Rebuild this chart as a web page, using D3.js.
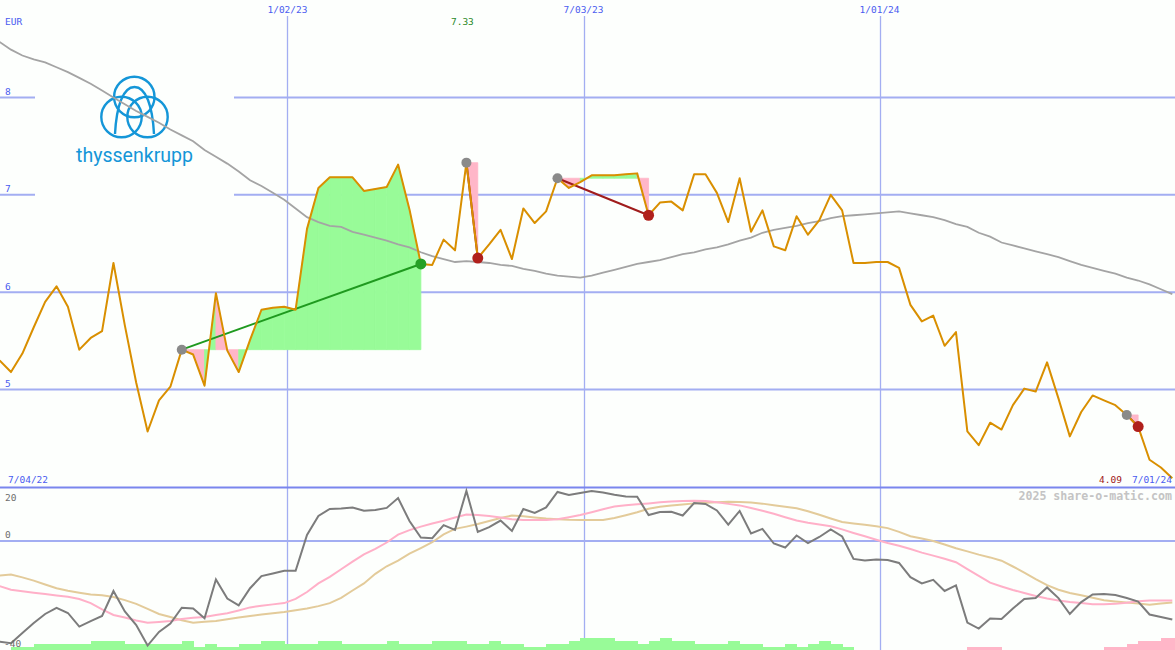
<!DOCTYPE html>
<html><head><meta charset="utf-8">
<script src="https://cdn.jsdelivr.net/npm/d3@7"></script>
<style>
html,body{margin:0;padding:0;background:#fdfffd;}
svg{display:block;}
</style></head>
<body>
<svg id="chart" width="1175" height="650"></svg>
<script>
// ---------------- DATA ----------------
const startDate = new Date(2022, 6, 9);   // first weekly point
const price = [5.30,5.18,5.37,5.64,5.90,6.06,5.85,5.41,5.53,5.60,
  6.30,5.66,5.07,4.57,4.89,5.03,5.41,5.36,5.04,5.99,
  5.40,5.18,5.51,5.82,5.84,5.85,5.82,6.65,7.07,7.18,
  7.18,7.18,7.04,7.06,7.08,7.31,6.85,6.29,6.28,6.54,
  6.43,7.33,6.35,6.49,6.64,6.34,6.86,6.71,6.83,7.17,
  7.07,7.13,7.20,7.20,7.20,7.21,7.22,6.79,6.92,6.93,
  6.84,7.21,7.21,7.02,6.72,7.17,6.62,6.84,6.47,6.43,
  6.78,6.59,6.74,7.00,6.84,6.30,6.30,6.31,6.31,6.25,
  5.87,5.70,5.76,5.45,5.59,4.57,4.43,4.66,4.59,4.84,
  5.01,4.98,5.28,4.91,4.52,4.77,4.94,4.89,4.84,4.74,
  4.62,4.28,4.20,4.09];
const movingAvg = [8.57,8.49,8.43,8.39,8.36,8.31,8.26,8.20,8.14,8.07,
  8.00,7.93,7.86,7.80,7.74,7.67,7.61,7.55,7.46,7.39,
  7.32,7.24,7.15,7.09,7.02,6.95,6.86,6.77,6.72,6.68,
  6.67,6.62,6.59,6.56,6.53,6.49,6.46,6.41,6.37,6.34,
  6.31,6.32,6.31,6.30,6.28,6.27,6.24,6.22,6.19,6.17,
  6.16,6.15,6.17,6.20,6.23,6.26,6.29,6.31,6.33,6.36,
  6.39,6.41,6.44,6.46,6.49,6.53,6.56,6.61,6.64,6.66,
  6.68,6.71,6.73,6.76,6.78,6.79,6.80,6.81,6.82,6.83,
  6.81,6.79,6.77,6.74,6.70,6.67,6.61,6.57,6.51,6.48,
  6.45,6.42,6.39,6.36,6.32,6.28,6.25,6.22,6.19,6.15,
  6.12,6.08,6.03,5.98];
const oscillator = [-39.9,-40.5,-36.4,-32.5,-28.9,-26.5,-28.5,-33.9,-31.7,-29.7,
  -19.8,-27.9,-33.3,-41.4,-36.0,-32.7,-26.4,-26.7,-30.6,-15.2,
  -22.8,-25.5,-18.7,-13.9,-12.9,-11.8,-11.8,2.4,9.9,12.7,
  12.9,13.3,12.0,12.3,13.1,17.0,7.9,1.4,1.1,6.3,
  4.4,19.8,3.6,5.5,8.1,4.0,12.7,11.1,13.3,19.4,
  18.2,19.0,19.8,19.2,18.3,17.6,17.5,10.3,11.5,11.6,
  10.1,15.0,14.7,12.1,6.5,11.9,3.0,4.8,-1.0,-2.6,
  2.2,-0.8,1.6,4.6,1.8,-7.1,-7.7,-7.3,-7.5,-8.7,
  -14.3,-16.8,-15.4,-19.8,-17.6,-32.3,-34.7,-30.7,-30.9,-26.7,
  -23.0,-22.6,-18.4,-22.6,-28.9,-24.2,-21.2,-21.0,-21.4,-22.6,
  -24.0,-29.1,-30.1,-31.1];
const signalFast = [-17.9,-19.3,-19.9,-20.5,-21.0,-21.6,-22.1,-23.0,-24.6,-27.1,
  -29.3,-30.3,-31.5,-32.4,-32.1,-31.7,-30.9,-30.4,-30.1,-29.3,
  -28.6,-27.5,-26.3,-25.6,-25.1,-24.6,-22.9,-20.2,-16.8,-14.2,
  -11.2,-8.2,-5.3,-3.1,-0.6,2.5,4.3,5.7,6.9,8.0,
  9.3,10.5,10.3,9.9,9.3,8.6,8.3,8.3,8.3,8.6,
  9.4,10.3,11.4,12.6,13.7,14.2,14.6,14.9,15.3,15.6,
  15.8,15.9,15.8,15.3,14.7,14.1,13.1,12.0,10.8,9.4,
  8.1,7.2,6.5,5.8,4.6,3.2,1.9,0.5,-0.8,-1.9,
  -3.2,-4.6,-5.8,-7.0,-8.4,-11.1,-13.8,-16.5,-18.0,-19.4,
  -20.6,-21.8,-22.8,-23.6,-24.2,-24.6,-25.0,-25.0,-24.9,-24.5,
  -23.9,-23.6,-23.6,-23.6];
const signalSlow = [-13.7,-13.3,-14.4,-15.7,-17.2,-18.7,-19.7,-20.5,-21.2,-21.5,
  -22.2,-23.4,-24.9,-26.9,-28.9,-30.1,-31.4,-32.4,-32.0,-31.7,
  -31.0,-30.3,-29.7,-29.1,-28.6,-28.1,-27.4,-26.7,-25.8,-24.6,
  -22.5,-19.6,-16.8,-13.0,-10.0,-7.8,-5.0,-2.8,-0.5,2.6,
  4.8,5.7,6.7,7.9,9.1,10.1,9.8,9.3,8.9,8.6,
  8.4,8.3,8.3,8.3,9.1,10.2,11.4,12.8,13.6,14.1,
  14.5,14.9,15.1,15.3,15.5,15.4,15.2,14.8,14.2,13.6,
  13.0,11.8,10.4,8.9,7.5,6.9,6.4,5.8,5.1,3.6,
  1.9,1.0,0.0,-1.4,-2.9,-4.1,-5.4,-6.5,-7.8,-10.1,
  -12.5,-15.1,-17.5,-19.3,-20.6,-21.5,-22.5,-23.5,-24.0,-24.4,
  -24.8,-25.2,-24.8,-24.4];
const histogram = [0,1,1,2,2,2,2,2,3,3,
  3,2,2,2,2,2,3,1,2,1,
  1,2,2,3,3,2,2,2,3,3,
  2,2,2,2,3,2,2,2,3,3,
  3,2,2,3,2,2,1,1,2,2,
  3,4,4,4,3,3,2,3,4,3,
  3,2,2,2,3,2,2,1,1,2,
  1,2,3,2,1,0,0,0,0,0,
  0,0,0,0,0,-1,-1,-1,0,0,
  0,0,0,0,0,0,0,-1,-1,-2,
  -3,-3,-4,-4];
const trades = [ {entry:16, exit:37}, {entry:41, exit:42}, {entry:49, exit:57}, {entry:99, exit:100} ];
const priceTicks = [8, 7, 6, 5];
const oscTicks = [20, 0, -40];
const gridDates = [new Date(2023,0,2), new Date(2023,6,3), new Date(2024,0,1)];
const currencyLabel = "EUR";
const startLabel = "7/04/22";
const endLabel = "7/01/24";
const highLabel = "7.33";
const lastLabel = "4.09";
const creditLabel = "2025 share-o-matic.com";
const brandName = "thyssenkrupp";

// ---------------- SETUP ----------------
const W = 1175, H = 650;
const BG = "#fdfffd";
const dates = price.map((_, i) => d3.timeDay.offset(startDate, 7 * i));
const svg = d3.select("#chart");
const mono = "'DejaVu Sans Mono', monospace";

const x = d3.scaleTime().domain([dates[0], dates[dates.length - 1]]).range([-0.4, 1172.3]);
const yT = d3.scaleLinear().domain([4, 9]).range([487, 0]);
const yB = d3.scaleLinear().domain([-40, 20]).range([642, 490.5]);
const yBar = d3.scaleLinear().domain([0, 4]).range([650, 638]);

const GRID = "#a3aef2", BLUE = "#4a5cf0";
const GREEN_FILL = "#98fb98", PINK_FILL = "#ffb6c8";

svg.append("rect").attr("width", W).attr("height", H).attr("fill", BG);

// ---------------- GRID ----------------
svg.append("g").selectAll("line").data(gridDates).join("line")
  .attr("x1", d => Math.round(x(d)) + 0.5).attr("x2", d => Math.round(x(d)) + 0.5)
  .attr("y1", 16).attr("y2", H)
  .attr("stroke", GRID).attr("stroke-width", 1.3);

svg.append("g").selectAll("line").data(priceTicks).join("line")
  .attr("x1", 0).attr("x2", W)
  .attr("y1", d => yT(d)).attr("y2", d => yT(d))
  .attr("stroke", GRID).attr("stroke-width", 2);

svg.append("line").attr("x1", 0).attr("x2", W).attr("y1", yB(0)).attr("y2", yB(0))
  .attr("stroke", GRID).attr("stroke-width", 2);
svg.append("line").attr("x1", 0).attr("x2", W).attr("y1", 487.5).attr("y2", 487.5)
  .attr("stroke", "#7a86ee").attr("stroke-width", 2.2);

// ---------------- LOGO ----------------
svg.append("rect").attr("x", 35).attr("y", 62).attr("width", 199).attr("height", 145).attr("fill", BG);
const LOGO = "#1496d8";
const logo = svg.append("g").attr("fill", "none").attr("stroke", LOGO).attr("stroke-width", 2.4);
[[134.3, 97], [121.5, 117], [147.5, 117]].forEach(c => {
  logo.append("circle").attr("cx", c[0]).attr("cy", c[1]).attr("r", 20.2);
});
logo.append("path").attr("d", "M115,134 C116.5,106 123,87 134.5,87 C146,87 152.5,106 154,134");
svg.append("text").attr("x", 76).attr("y", 162).text(brandName)
  .attr("font-family", "Roboto, 'Open Sans', sans-serif").attr("font-size", 21)
  .attr("textLength", 117).attr("lengthAdjust", "spacingAndGlyphs")
  .attr("fill", LOGO);

// ---------------- TRADE FILLS ----------------
const fillG = svg.append("g");
trades.forEach(t => {
  const e = price[t.entry];
  for (let k = t.entry; k < t.exit; k++) {
    const pts = [[x(dates[k]), yT(e)], [x(dates[k]), yT(price[k])],
                 [x(dates[k + 1]), yT(price[k + 1])], [x(dates[k + 1]), yT(e)]];
    const col = price[k + 1] >= e ? GREEN_FILL : PINK_FILL;
    fillG.append("path").attr("d", d3.line()(pts) + "Z")
      .attr("fill", col).attr("stroke", col).attr("stroke-width", 0.8)
      .attr("stroke-linejoin", "miter");
  }
});

// ---------------- LINES (top) ----------------
svg.append("path").datum(movingAvg)
  .attr("d", d3.line().x((d, i) => x(dates[i])).y(d => yT(d)))
  .attr("fill", "none").attr("stroke", "#a4a4a4").attr("stroke-width", 1.8);

// trade lines (under the price line)
trades.forEach(t => {
  const win = price[t.exit] > price[t.entry];
  svg.append("line")
    .attr("x1", x(dates[t.entry])).attr("y1", yT(price[t.entry]))
    .attr("x2", x(dates[t.exit])).attr("y2", yT(price[t.exit]))
    .attr("stroke", win ? "#1f9a1f" : "#a01c1c").attr("stroke-width", 2);
});

svg.append("path").datum(price)
  .attr("d", d3.line().x((d, i) => x(dates[i])).y(d => yT(d)))
  .attr("fill", "none").attr("stroke", "#d98f00").attr("stroke-width", 2)
  .attr("stroke-linejoin", "round");

trades.forEach(t => {
  const win = price[t.exit] > price[t.entry];
  svg.append("circle").attr("cx", x(dates[t.entry])).attr("cy", yT(price[t.entry])).attr("r", 5)
    .attr("fill", "#8a8a8a");
  svg.append("circle").attr("cx", x(dates[t.exit])).attr("cy", yT(price[t.exit])).attr("r", 5.5)
    .attr("fill", win ? "#26a026" : "#b0201c");
});

// ---------------- BOTTOM PANEL ----------------
svg.append("g").selectAll("rect").data(histogram.map((v, i) => ({v, i})).filter(d => d.v !== 0)).join("rect")
  .attr("x", d => x(dates[d.i]))
  .attr("width", d => x(d3.timeDay.offset(dates[d.i], 7)) - x(dates[d.i]) + 0.6)
  .attr("y", d => yBar(Math.abs(d.v)))
  .attr("height", d => H - yBar(Math.abs(d.v)))
  .attr("fill", d => d.v > 0 ? GREEN_FILL : PINK_FILL)
  .attr("shape-rendering", "crispEdges");

const lineB = d3.line().x((d, i) => x(dates[i])).y(d => yB(d));
svg.append("path").datum(signalSlow).attr("d", lineB)
  .attr("fill", "none").attr("stroke", "#e3cb9a").attr("stroke-width", 2);
svg.append("path").datum(signalFast).attr("d", lineB)
  .attr("fill", "none").attr("stroke", "#ffb0c8").attr("stroke-width", 2);
svg.append("path").datum(oscillator).attr("d", lineB)
  .attr("fill", "none").attr("stroke", "#7c7c7c").attr("stroke-width", 2);

// ---------------- TEXT ----------------
const txt = (s, xx, yy, col, anchor, size, weight) =>
  svg.append("text").attr("x", xx).attr("y", yy).text(s)
    .attr("font-family", mono).attr("font-size", size || 9.5)
    .attr("font-weight", weight || "normal")
    .attr("text-anchor", anchor || "start").attr("fill", col);

txt(currencyLabel, 5, 25, BLUE);
priceTicks.forEach(v => txt(String(v), 5, yT(v) - 2.5, BLUE));
const fmt = d3.timeFormat("%-m/%d/%y");
gridDates.forEach(d => txt(fmt(d), x(d), 13, BLUE, "middle"));
const hiIdx = d3.maxIndex(price);
txt(highLabel, x(dates[hiIdx]) - 4, 25, "#2a8a2a", "middle");
txt(startLabel, 8, 483, BLUE);
txt(endLabel, 1172, 483, BLUE, "end");
txt(lastLabel, 1122, 483, "#a01818", "end");
txt(creditLabel, 1172, 500, "#c4c4c4", "end", 11.6, "bold");

txt("20", 5, yB(20) + 10, "#6e6e6e");
txt("0", 5, yB(0) - 3, "#6e6e6e");
txt("-40", 4, yB(-40) + 5, "#6e6e6e");
</script>
</body></html>
